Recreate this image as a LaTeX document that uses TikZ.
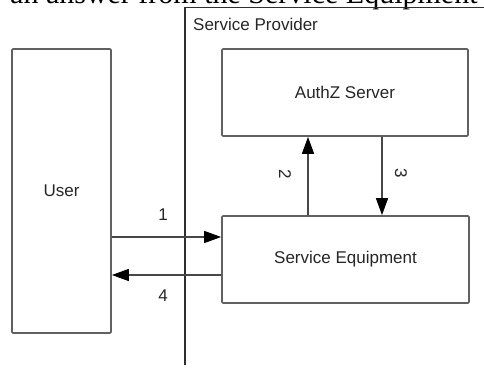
\documentclass[tikz,border=0pt]{standalone}
\usepackage{fontspec}
\setmainfont{Liberation Sans}
\newfontfamily\bodyserif{Liberation Serif}
\usetikzlibrary{arrows.meta}
\begin{document}
\begin{tikzpicture}[x=1pt,y=-1pt,
  box/.style={draw=black!62, line width=1.7pt, rounded corners=1pt, fill=white, inner sep=0pt,
              font=\fontsize{17}{20}\selectfont, text=black!85},
  flow/.style={draw=black!72, line width=1.4pt,
               -{Triangle[length=17pt,width=12pt,color=black,fill=black]}},
  num/.style={font=\fontsize{17}{20}\selectfont, text=black!85, inner sep=0pt},
  frame/.style={draw=black!82, line width=1.2pt}]
\useasboundingbox (0,0) rectangle (484,367);
\clip (0,0) rectangle (484,367);

% running text of the page above the figure, cut at the top edge
\node[anchor=base west, inner sep=0pt, font=\bodyserif\fontsize{30}{34}\selectfont] (caption)
  at (10,3) {an answer from the Service Equipment};

% service provider domain
\coordinate (spTop) at (484,7.5);
\coordinate (spCorner) at (185,7.5);
\coordinate (spBottom) at (185,365);
\draw[frame] (spTop) -- (spCorner) -- (spBottom);
\node[anchor=west, inner sep=0pt, font=\fontsize{17}{20}\selectfont, text=black!85] (sp) at (193,24) {Service Provider};

% parties
\node[box, minimum width=99pt, minimum height=284pt] (user) at (61.5,191) {User};
\node[box, minimum width=246pt, minimum height=87pt] (authz) at (345,92.5) {AuthZ Server};
\node[box, minimum width=247pt, minimum height=87pt] (se) at (345.5,259.5) {Service Equipment};

% message flow
\draw[flow] (user.east |- 0,237) -- (se.west |- 0,237);
\draw[flow] (se.north -| 308,0) -- (authz.south -| 308,0);
\draw[flow] (authz.south -| 382,0) -- (se.north -| 382,0);
\draw[flow] (se.west |- 0,275) -- (user.east |- 0,275);

% step numbers
\node[num] (n1) at (163,215) {1};
\node[num, rotate=-90] (n2) at (285,174) {2};
\node[num, rotate=-90] (n3) at (401,173) {3};
\node[num] (n4) at (163,296) {4};
\end{tikzpicture}
\end{document}
